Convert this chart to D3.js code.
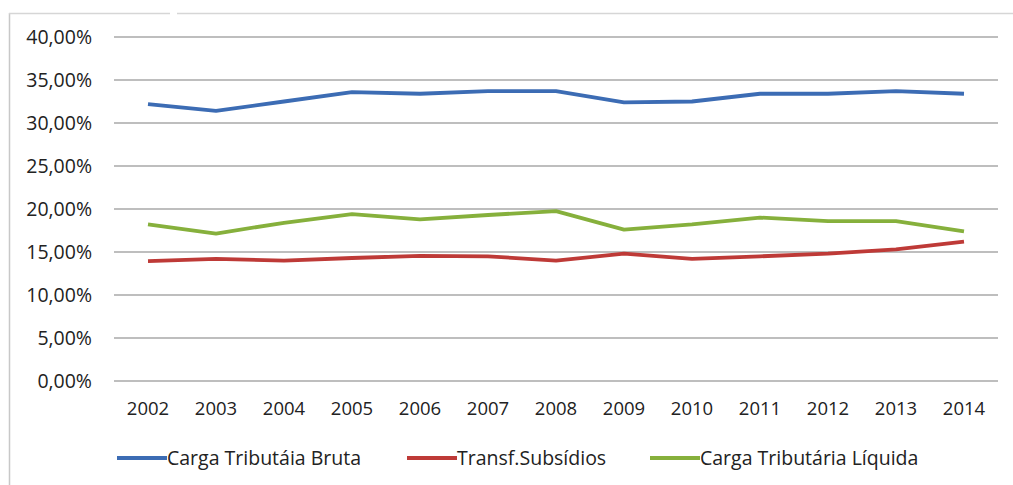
<!DOCTYPE html>
<html>
<head>
<meta charset="utf-8">
<script src="https://cdn.jsdelivr.net/npm/d3@7"></script>
<style>
  html, body { margin: 0; padding: 0; background: #fff; }
  svg { display: block; }
  text { font-family: "Open Sans", Lato, sans-serif; fill: #222; }
</style>
</head>
<body>
<svg id="chart" width="1013" height="485"></svg>
<script>
// Years on the horizontal axis
const years = ["2002","2003","2004","2005","2006","2007","2008","2009","2010","2011","2012","2013","2014"];

// Series values, in percent of GDP
const cargaBruta   = [32.2, 31.4, 32.5, 33.6, 33.4, 33.7, 33.7, 32.4, 32.5, 33.4, 33.4, 33.7, 33.4];
const transfSubs   = [13.95, 14.2, 14.0, 14.3, 14.55, 14.5, 14.0, 14.8, 14.2, 14.5, 14.8, 15.3, 16.2];
const cargaLiquida = [18.2, 17.15, 18.4, 19.4, 18.8, 19.3, 19.75, 17.6, 18.2, 19.0, 18.6, 18.6, 17.4];

// Series names shown in the legend
const seriesNames = ["Carga Tributáia Bruta", "Transf.Subsídios", "Carga Tributária Líquida"];

// Y-axis ticks
const yTicks = [0, 5, 10, 15, 20, 25, 30, 35, 40];

const colors = ["#3C6CB4", "#BE3A37", "#86B03C"];
const series = [cargaBruta, transfSubs, cargaLiquida].map((vals, i) => ({
  name: seriesNames[i], values: vals, color: colors[i]
}));

const FONT = "'Open Sans', Lato, sans-serif";
const svg = d3.select("#chart");

// Outer frame (left and top edges)
svg.append("line").attr("x1", 9.5).attr("x2", 9.5).attr("y1", 13).attr("y2", 485)
  .attr("stroke", "#c8c8c8").attr("stroke-width", 1.5);
svg.append("line").attr("x1", 9).attr("x2", 170).attr("y1", 13.5).attr("y2", 13.5)
  .attr("stroke", "#d6d6d6").attr("stroke-width", 1.5);
svg.append("line").attr("x1", 177).attr("x2", 1013).attr("y1", 13.5).attr("y2", 13.5)
  .attr("stroke", "#d6d6d6").attr("stroke-width", 1.5);

const plot = { left: 114, right: 998, top: 37, bottom: 381 };

const x = d3.scaleBand().domain(years).range([plot.left, plot.right]);
const y = d3.scaleLinear().domain([0, 40]).range([plot.bottom, plot.top]);

const fmt = v => d3.format(".2f")(v).replace(".", ",") + "%";

// Horizontal gridlines
svg.append("g")
  .selectAll("line")
  .data(yTicks)
  .join("line")
  .attr("x1", plot.left).attr("x2", plot.right)
  .attr("y1", d => y(d)).attr("y2", d => y(d))
  .attr("stroke", "#a8a8a8").attr("stroke-width", 1.6);

// Y axis labels
const yAxis = svg.append("g")
  .attr("transform", `translate(${plot.left},0)`)
  .call(d3.axisLeft(y).tickValues(yTicks).tickFormat(fmt).tickSize(0).tickPadding(22));
yAxis.select(".domain").remove();
yAxis.selectAll("text").style("font-family", FONT)
  .style("font-size", "19.5px").attr("fill", "#222");

// X axis labels
const xAxis = svg.append("g")
  .attr("transform", `translate(0,${plot.bottom})`)
  .call(d3.axisBottom(x).tickSize(0).tickPadding(21));
xAxis.select(".domain").remove();
xAxis.selectAll("text").style("font-family", FONT)
  .style("font-size", "18.5px").attr("fill", "#222");

// Series lines
const line = d3.line()
  .x((d, i) => x(years[i]) + x.bandwidth() / 2)
  .y(d => y(d));

svg.append("g")
  .selectAll("path")
  .data(series)
  .join("path")
  .attr("d", d => line(d.values))
  .attr("fill", "none")
  .attr("stroke", d => d.color)
  .attr("stroke-width", 3.8)
  .attr("stroke-linejoin", "round")
  .attr("stroke-linecap", "butt");

// Legend
const legendX = [117, 407, 650];
const legend = svg.append("g")
  .selectAll("g")
  .data(series)
  .join("g")
  .attr("transform", (d, i) => `translate(${legendX[i]},458)`);
legend.append("line")
  .attr("x1", 0).attr("x2", 50).attr("y1", 0).attr("y2", 0)
  .attr("stroke", d => d.color).attr("stroke-width", 3.8);
legend.append("text")
  .attr("x", 50).attr("y", 0).attr("dy", "0.35em")
  .style("font-family", FONT)
  .style("font-size", "19.5px")
  .text(d => d.name);
</script>
</body>
</html>
